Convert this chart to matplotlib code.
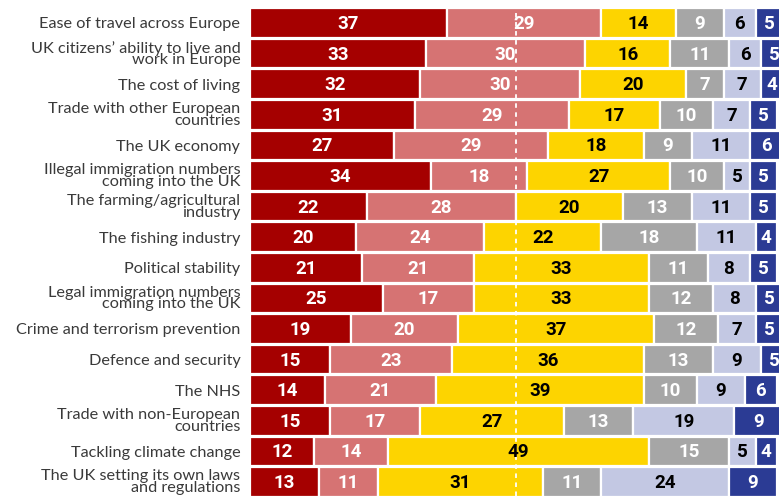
import matplotlib
matplotlib.use("Agg")
import matplotlib.pyplot as plt
import numpy as np

categories = [
    "Ease of travel across Europe",
    "UK citizens\u2019 ability to live and\nwork in Europe",
    "The cost of living",
    "Trade with other European\ncountries",
    "The UK economy",
    "Illegal immigration numbers\ncoming into the UK",
    "The farming/agricultural\nindustry",
    "The fishing industry",
    "Political stability",
    "Legal immigration numbers\ncoming into the UK",
    "Crime and terrorism prevention",
    "Defence and security",
    "The NHS",
    "Trade with non-European\ncountries",
    "Tackling climate change",
    "The UK setting its own laws\nand regulations",
]

much_worse = [37, 33, 32, 31, 27, 34, 22, 20, 21, 25, 19, 15, 14, 15, 12, 13]
worse      = [29, 30, 30, 29, 29, 18, 28, 24, 21, 17, 20, 23, 21, 17, 14, 11]
no_diff    = [14, 16, 20, 17, 18, 27, 20, 22, 33, 33, 37, 36, 39, 27, 49, 31]
dont_know  = [9, 11, 7, 10, 9, 10, 13, 18, 11, 12, 12, 13, 10, 13, 15, 11]
better     = [6, 6, 7, 7, 11, 5, 11, 11, 8, 8, 7, 9, 9, 19, 5, 24]
much_better = [5, 5, 4, 5, 6, 5, 5, 4, 5, 5, 5, 5, 6, 9, 4, 9]

series = [much_worse, worse, no_diff, dont_know, better, much_better]
colors = ["#a50000", "#d67373", "#fdd400", "#a6a6a6", "#c3c8e3", "#2b3b94"]
text_colors = ["white", "white", "black", "white", "black", "white"]

fig = plt.figure(figsize=(7.79, 4.96), dpi=100)
ax = fig.add_axes([250 / 779, 0, 1 - 250 / 779, 1])

y = np.arange(len(categories))
left = np.zeros(len(categories))
for vals, col, tcol in zip(series, colors, text_colors):
    vals = np.array(vals, dtype=float)
    ax.barh(y, vals, left=left, height=0.97, color=col, edgecolor="white",
            linewidth=1.6, zorder=2)
    for yi, (l, v) in enumerate(zip(left, vals)):
        ax.text(l + v / 2, yi + 0.03, f"{int(v)}", ha="center", va="center",
                color=tcol, fontsize=13.5, fontweight="bold",
                family="Roboto", zorder=4)
    left += vals

ax.axvline(50, color="white", linestyle=(0, (2.5, 2.5)), linewidth=1.3, zorder=3)

ax.set_xlim(0, 99.4)
ax.set_ylim((496 - 23) / 30.6, -23 / 30.6)
ax.set_yticks(y)
ax.set_yticklabels(categories, fontsize=11.7, family="Lato", color="#3a3a3a",
                   linespacing=0.78)
ax.tick_params(axis="y", length=0, pad=7)
ax.set_xticks([])
for s in ax.spines.values():
    s.set_visible(False)

fig.savefig("out.png", dpi=100)
